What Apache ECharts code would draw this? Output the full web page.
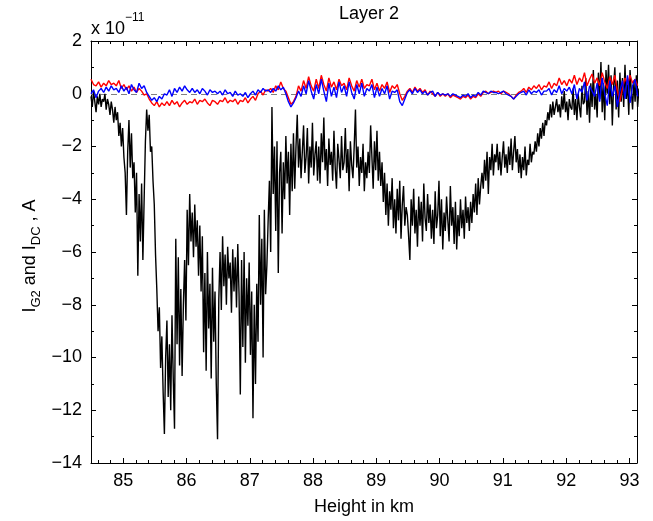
<!DOCTYPE html>
<html><head><meta charset="utf-8">
<script src="https://cdn.jsdelivr.net/npm/echarts@6/dist/echarts.min.js"></script>
<style>html,body{margin:0;padding:0;background:#fff}#c{width:653px;height:521px}</style>
</head><body><div id="c"></div>
<script>
// Axis ranges and ticks
const xMin = 84.49, xMax = 93.12;
const yMin = -14, yMax = 2;
const xMajorTicks = [85, 86, 87, 88, 89, 90, 91, 92, 93];
const xMinorTicks = [84.6, 84.8, 85.2, 85.4, 85.6, 85.8, 86.2, 86.4, 86.6, 86.8, 87.2, 87.4, 87.6, 87.8,
  88.2, 88.4, 88.6, 88.8, 89.2, 89.4, 89.6, 89.8, 90.2, 90.4, 90.6, 90.8, 91.2, 91.4, 91.6, 91.8,
  92.2, 92.4, 92.6, 92.8];
const titleText = 'Layer 2';
const xLabel = 'Height in km';

// Black series (units of 1e-11 A), sampled every 0.02 km from blackStart
const blackStart = 84.49, blackStep = 0.02;
const blackValues = [
  -0.1, -0.5, 0.1, -0.3, -0.7, -0.1, -0.4, 0.0, -0.5, -0.2,
  -0.3, 0.0, -0.6, -0.2, -0.4, -0.8, -0.3, -0.6, -1.1, -0.5,
  -1.0, -0.7, -1.6, -1.1, -2.0, -1.3, -2.4, -3.0, -4.6, -2.2,
  -1.0, -2.8, -1.5, -3.2, -2.6, -4.5, -3.0, -6.9, -3.8, -5.6,
  -3.4, -6.3, -4.0, -1.8, -0.6, -1.4, -0.8, -2.2, -2.0, -3.3,
  -4.2, -6.1, -7.4, -9.0, -8.1, -10.4, -9.2, -11.3, -12.9, -10.0,
  -8.6, -11.5, -9.5, -12.0, -8.4, -10.8, -12.7, -5.5, -9.5, -6.2,
  -10.3, -7.4, -10.7, -8.0, -6.3, -8.6, -4.4, -6.5, -3.8, -5.6,
  -4.5, -6.2, -4.2, -5.8, -4.8, -6.9, -5.0, -7.5, -5.4, -9.8,
  -6.8, -10.5, -6.0, -8.9, -7.2, -10.8, -6.6, -9.4, -7.5, -11.0,
  -13.1, -7.8, -6.0, -8.2, -5.4, -7.3, -6.1, -8.0, -5.8, -7.0,
  -6.4, -8.3, -5.9, -7.5, -6.2, -8.1, -5.7, -7.6, -11.4, -6.3,
  -9.6, -6.0, -10.2, -7.0, -8.8, -6.4, -9.9, -7.5, -12.3, -8.0,
  -11.0, -7.2, -9.4, -4.6, -8.0, -5.5, -10.0, -4.4, -7.6, -6.5,
  -4.8, -3.3, -6.0, -0.5, -3.8, -2.0, -5.2, -1.8, -6.8, -3.0,
  -2.2, -5.3, -2.6, -4.0, -1.6, -3.4, -2.2, -4.6, -1.9, -3.7,
  -1.5, -3.6, -2.0, -0.8, -2.8, -1.7, -3.2, -2.2, -1.2, -3.0,
  -2.4, -1.3, -3.4, -2.0, -2.8, -1.1, -3.1, -2.3, -1.8, -3.3,
  -2.0, -3.4, -1.5, -2.6, -0.9, -2.9, -2.1, -3.5, -1.7, -2.7,
  -2.2, -3.3, -1.4, -2.8, -3.6, -1.9, -2.5, -3.2, -1.6, -2.9,
  -2.6, -1.3, -3.0, -2.1, -3.7, -1.8, -2.7, -3.2, -2.0, -0.6,
  -2.8, -2.0, -3.5, -2.4, -3.0, -1.9, -3.7, -2.6, -3.2, -2.2,
  -3.0, -1.2, -2.4, -3.6, -1.8, -2.9, -1.4, -3.3, -2.2, -3.5,
  -2.6, -4.1, -3.0, -4.6, -3.4, -5.0, -3.7, -4.4, -3.2, -5.1,
  -4.0, -5.3, -3.6, -4.8, -3.3, -5.5, -4.2, -3.5, -5.0, -4.3,
  -4.6, -5.4, -6.3, -4.0, -5.0, -3.6, -5.3, -4.4, -5.8, -3.9,
  -5.0, -4.1, -5.6, -3.4, -4.7, -5.2, -3.8, -4.9, -4.2, -5.5,
  -4.4, -5.7, -3.7, -5.1, -4.6, -3.3, -5.4, -4.0, -5.9, -4.5,
  -5.2, -3.9, -4.8, -5.6, -3.5, -5.0, -4.3, -5.7, -4.1, -5.9,
  -4.6, -5.4, -4.0, -5.1, -4.4, -5.5, -3.9, -4.9, -4.3, -5.2,
  -4.1, -4.9, -3.8, -4.5, -3.4, -4.6, -3.2, -4.2, -3.5, -3.0,
  -3.6, -2.5, -3.3, -2.2, -3.8, -2.4, -2.9, -1.9, -3.1, -2.3,
  -2.6, -1.9, -2.9, -2.2, -3.1, -2.4, -1.8, -2.8, -2.3, -3.0,
  -2.0, -2.7, -1.7, -2.9, -2.2, -1.6, -2.6, -2.1, -3.0, -2.3,
  -3.2, -2.4, -2.9, -2.0, -3.1, -2.5, -2.7, -1.9, -2.6, -2.2,
  -2.3, -1.8, -2.2, -1.5, -2.0, -1.3, -1.7, -1.1, -1.6, -1.0,
  -1.2, -0.7, -1.0, -0.4, -0.9, -0.3, -0.8, -0.5, -0.2, -0.7,
  -0.4, -0.9, -0.1, -0.6, 0.1, -0.7, -0.3, -1.0, -0.2, -0.5,
  -0.6, 0.2, -0.8, -0.2, -1.0, 0.0, -0.5, -0.9, 0.3, -0.4,
  -0.3, 0.6, -0.8, 0.1, -1.1, 0.4, -0.5, 0.9, -0.6, 0.0,
  -0.9, 0.8, -0.2, 1.2, -0.7, 0.4, -1.0, 0.9, 0.0, 1.1,
  -0.4, 0.7, -1.2, 0.3, 1.0, -0.6, 0.5, -0.9, 0.8, -0.3,
  0.6, -0.5, 1.1, -0.2, 0.4, -0.8, 0.9, 0.1, -0.6, 0.5,
  -0.3, 0.7, -0.5, 0.2
];

// Red and blue series (units of 1e-11 A), sampled every 0.04 km from colorStart
const colorStart = 84.49, colorStep = 0.04;
const redValues = [
  0.55, 0.35, 0.3, 0.45, 0.25, 0.4, 0.3, 0.5, 0.35, 0.4,
  0.3, 0.5, 0.2, 0.35, 0.15, 0.3, 0.1, 0.25, 0.05, 0.2,
  0.1, -0.05, 0.0, -0.2, -0.35, -0.45, -0.3, -0.5, -0.35, -0.45,
  -0.3, -0.45, -0.25, -0.4, -0.3, -0.5, -0.35, -0.25, -0.4, -0.3,
  -0.35, -0.2, -0.4, -0.25, -0.3, -0.2, -0.35, -0.45, -0.25, -0.3,
  -0.4, -0.25, -0.3, -0.15, -0.35, -0.25, -0.3, -0.2, -0.4, -0.25,
  -0.3, -0.15, -0.35, -0.2, -0.1, -0.25, 0.0, 0.1, -0.05, 0.15,
  0.1, 0.2, 0.05, 0.3, 0.15, 0.45, 0.2, 0.1, -0.15, -0.4,
  -0.3, -0.1, 0.3, 0.1, 0.5, 0.2, 0.65, 0.3, 0.1, 0.55,
  0.2, 0.7, 0.35, 0.1, 0.6, 0.25, 0.45, 0.15, 0.55, 0.3,
  0.4, 0.15, 0.6, 0.3, 0.1, 0.5, 0.25, 0.55, 0.2, 0.35,
  0.3, 0.55, 0.15, 0.4, 0.1, 0.35, 0.2, 0.45, 0.05, 0.3,
  0.2, 0.35, 0.0, -0.25, -0.1, 0.1, 0.2, 0.05, 0.25, 0.1,
  0.2, 0.05, 0.15, -0.05, 0.1, 0.0, -0.1, 0.05, -0.1, 0.0,
  -0.1, 0.0, -0.15, -0.05, -0.1, -0.15, -0.2, -0.1, -0.15, -0.05,
  -0.2, -0.1, -0.15, 0.0, -0.1, 0.05, 0.1, 0.0, 0.05, 0.1,
  0.05, 0.1, 0.0, 0.1, 0.05, 0.0, -0.1, -0.2, -0.05, 0.05,
  0.1, 0.2, 0.05, 0.25, 0.15, 0.3, 0.2, 0.35, 0.15, 0.3,
  0.25, 0.45, 0.2, 0.4, 0.3, 0.6, 0.35, 0.5, 0.3, 0.55,
  0.4, 0.7, 0.35, 0.6, 0.45, 0.8, 0.3, 0.55, 0.75, 0.4,
  0.6, 0.3, 0.8, 0.45, 0.2, 0.65, 0.35, 0.7, 0.1, -0.3,
  0.2, 0.6, 0.35, 0.7, 0.4, 0.55, 0.3
];
const blueValues = [
  0.0, 0.15, -0.15, 0.1, 0.2, 0.05, 0.25, 0.1, 0.3, 0.15,
  0.2, 0.05, 0.3, 0.1, 0.25, 0.0, 0.35, 0.15, 0.05, 0.4,
  0.2, 0.3, 0.05, -0.1, -0.25, -0.15, -0.3, -0.1, -0.2, 0.0,
  -0.05, 0.15, -0.1, 0.2, 0.05, 0.25, 0.1, 0.3, 0.15, 0.05,
  0.2, 0.05, 0.15, 0.0, 0.2, 0.1, -0.05, 0.15, 0.05, 0.1,
  0.0, 0.1, -0.05, 0.15, 0.0, 0.05, -0.1, 0.1, -0.05, 0.0,
  -0.1, 0.05, -0.15, 0.0, 0.1, -0.05, 0.15, 0.05, 0.2, 0.1,
  0.15, 0.05, 0.2, 0.1, 0.3, 0.15, 0.25, 0.0, -0.3, -0.5,
  -0.35, -0.15, 0.1, -0.1, 0.3, 0.0, 0.5, 0.1, -0.2, 0.35,
  0.0, 0.55, 0.1, -0.3, 0.4, -0.1, 0.25, -0.15, 0.45, 0.05,
  0.3, -0.1, 0.45, 0.05, -0.2, 0.35, 0.0, 0.4, -0.1, 0.2,
  0.1, 0.35, -0.15, 0.25, -0.1, 0.2, 0.0, 0.3, -0.2, 0.1,
  0.05, 0.15, -0.3, -0.45, -0.2, 0.05, 0.15, 0.0, 0.2, 0.05,
  0.15, 0.0, 0.1, -0.05, 0.05, 0.1, -0.1, 0.05, -0.05, 0.0,
  -0.05, 0.0, -0.1, 0.0, -0.05, -0.1, -0.15, -0.05, -0.1, 0.0,
  -0.15, -0.05, -0.1, 0.05, -0.05, 0.1, 0.05, 0.0, 0.1, 0.05,
  0.05, 0.0, 0.05, 0.1, 0.0, -0.05, -0.1, -0.2, -0.1, 0.0,
  0.05, 0.1, -0.05, 0.15, 0.0, 0.1, 0.05, 0.15, -0.05, 0.1,
  0.1, 0.2, -0.05, 0.15, 0.05, 0.3, 0.0, 0.2, 0.1, 0.25,
  0.0, 0.35, -0.2, 0.2, 0.05, 0.45, -0.25, 0.3, 0.1, -0.1,
  0.4, -0.3, 0.6, 0.0, -0.45, 0.5, -0.1, 0.3, -0.5, 0.1,
  0.5, -0.2, 0.7, -0.35, 0.3, 0.55, -0.1
];

function toPairs(start, step, values) {
  return values.map((v, i) => [+(start + i * step).toFixed(3), v]);
}

const FONT = '"Liberation Sans", Arial, Helvetica, sans-serif';
const FS = 18;
const chart = echarts.init(document.getElementById('c'), null, {renderer: 'canvas'});

function xAxisDef(position, ticks, len, showLine, showLabel) {
  return {
    type: 'value', position: position, min: xMin, max: xMax, gridIndex: 0,
    axisLine: {show: showLine, onZero: false, lineStyle: {color: '#000', width: 1}},
    axisTick: {show: true, inside: true, length: len, customValues: ticks, lineStyle: {color: '#000', width: 1}},
    axisLabel: {show: showLabel, customValues: ticks, margin: 9, color: '#000', fontFamily: FONT, fontSize: FS},
    splitLine: {show: false}
  };
}
function yAxisDef(position, showLabel) {
  return {
    type: 'value', position: position, min: yMin, max: yMax, interval: 2,
    axisLine: {show: true, onZero: false, lineStyle: {color: '#000', width: 1}},
    axisTick: {show: true, inside: true, length: 5, lineStyle: {color: '#000', width: 1}},
    minorTick: {show: true, splitNumber: 2, length: 3, lineStyle: {color: '#000', width: 1}},
    axisLabel: {show: showLabel, margin: 9, color: '#000', fontFamily: FONT, fontSize: FS,
      formatter: v => (v < 0 ? '\u2212' + Math.abs(v) : String(v))},
    splitLine: {show: false}, minorSplitLine: {show: false}
  };
}

const xMain = xAxisDef('bottom', xMajorTicks, 5, true, true);
xMain.name = xLabel;
xMain.nameLocation = 'middle';
xMain.nameGap = 35;
xMain.nameTextStyle = {color: '#000', fontFamily: FONT, fontSize: FS};

const option = {
  animation: false,
  backgroundColor: '#fff',
  title: {text: titleText, left: 364, top: 0, textAlign: 'center',
    textStyle: {color: '#000', fontFamily: FONT, fontSize: FS, fontWeight: 'normal'}},
  grid: {left: 91, right: 16, top: 41, bottom: 52},
  xAxis: [
    xMain,
    xAxisDef('bottom', xMinorTicks, 3, false, false),
    xAxisDef('top', xMajorTicks, 5, true, false),
    xAxisDef('top', xMinorTicks, 3, false, false)
  ],
  yAxis: [yAxisDef('left', true), yAxisDef('right', false)],
  graphic: [
    {type: 'text', left: 91, top: 12, z: 10,
      style: {text: '{a|x 10}{b|\u221211}', fill: '#000',
        rich: {a: {fontFamily: FONT, fontSize: FS, lineHeight: 26, verticalAlign: 'bottom', fill: '#000'},
               b: {fontFamily: FONT, fontSize: 12, lineHeight: 14, verticalAlign: 'top', fill: '#000'}}}},
    {type: 'text', x: 30, y: 256, rotation: Math.PI / 2, z: 10,
      style: {text: '{a|I}{s|G2}{a| and I}{s|DC}{a| , A}', fill: '#000', align: 'center', verticalAlign: 'middle',
        rich: {a: {fontFamily: FONT, fontSize: FS, lineHeight: 26, verticalAlign: 'middle', fill: '#000'},
               s: {fontFamily: FONT, fontSize: 13, lineHeight: 13, verticalAlign: 'bottom', fill: '#000'}}}}
  ],
  series: [
    {type: 'line', name: 'black', xAxisIndex: 0, yAxisIndex: 0, data: toPairs(blackStart, blackStep, blackValues),
      showSymbol: false, symbol: 'none', clip: true, z: 2,
      lineStyle: {color: '#000', width: 1.4},
      markLine: {silent: true, symbol: 'none', label: {show: false}, z: 1,
        lineStyle: {color: '#808080', type: [6, 4], width: 1.2}, data: [{yAxis: 0}]}},
    {type: 'line', name: 'red', xAxisIndex: 0, yAxisIndex: 0, data: toPairs(colorStart, colorStep, redValues),
      showSymbol: false, symbol: 'none', clip: true, z: 3, lineStyle: {color: '#ff0000', width: 1.4}},
    {type: 'line', name: 'blue', xAxisIndex: 0, yAxisIndex: 0, data: toPairs(colorStart, colorStep, blueValues),
      showSymbol: false, symbol: 'none', clip: true, z: 4, lineStyle: {color: '#0000ff', width: 1.4}}
  ]
};
chart.setOption(option);
</script>
</body></html>
